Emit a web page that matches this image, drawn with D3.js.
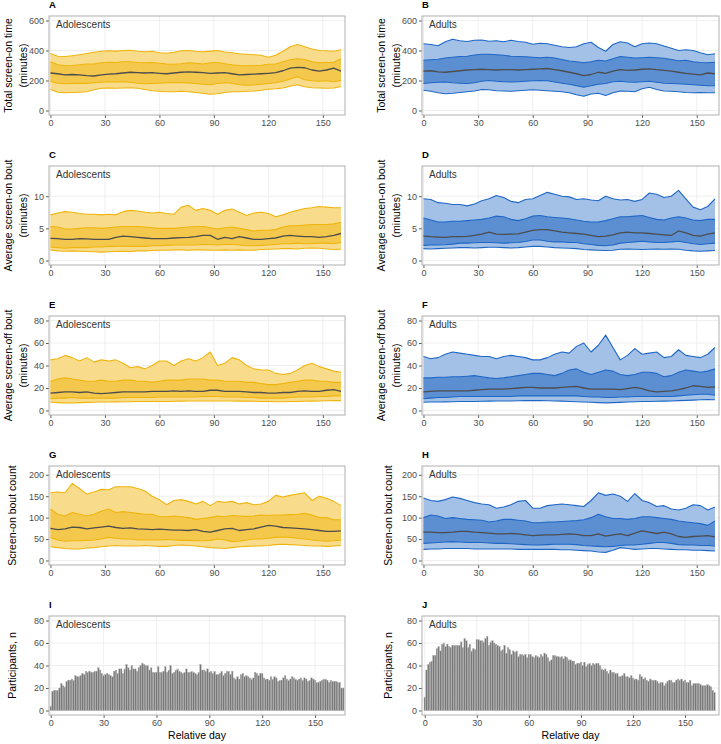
<!DOCTYPE html>
<html>
<head>
<meta charset="utf-8">
<script src="https://cdn.jsdelivr.net/npm/d3@7"></script>
<style>
  body { margin: 0; background: #fff; }
  svg { display: block; font-family: "Liberation Sans", Arial, sans-serif; }
</style>
</head>
<body>
<svg id="chart" width="721" height="744"></svg>
<script>
// Relative day sampled every 4 days for the percentile ribbons
const bandDays = [0,4,8,12,16,20,24,28,32,36,40,44,48,52,56,60,64,68,72,76,80,84,88,92,96,100,104,108,112,116,120,124,128,132,136,140,144,148,152,156,160];

// A: total screen-on time, adolescents (minutes)
const timeAdolP90 = [380,362,360,365,372,380,388,395,398,396,400,402,395,392,395,385,382,388,398,400,395,392,396,400,390,385,378,375,372,368,355,368,395,425,440,425,410,400,398,395,405];
const timeAdolP75 = [325,305,298,300,305,310,310,318,322,320,325,325,320,318,320,315,310,308,312,318,315,310,318,320,312,305,300,298,298,302,308,310,325,338,345,340,325,318,320,322,345];
const timeAdolP50 = [250,245,238,240,238,232,230,238,242,245,250,255,252,250,252,248,245,250,255,258,255,252,248,250,252,245,238,240,242,245,248,252,265,282,288,285,270,262,270,282,262];
const timeAdolP25 = [195,182,178,180,182,180,185,188,192,190,192,188,182,178,180,182,185,186,185,184,180,175,172,180,185,182,172,168,170,175,180,185,195,210,225,205,198,195,198,192,200];
const timeAdolP10 = [140,122,118,120,122,125,138,148,150,148,150,152,148,140,132,128,125,125,128,125,120,115,108,112,120,125,125,128,130,135,142,145,150,162,172,158,152,150,148,150,160];
// B: total screen-on time, adults
const timeAdultP90 = [445,440,432,458,475,465,460,468,470,462,465,458,468,460,455,442,448,445,435,425,420,425,445,455,420,395,440,458,450,425,445,450,445,430,415,400,405,400,385,372,378];
const timeAdultP75 = [335,338,342,350,355,360,362,370,375,375,372,368,362,360,358,355,352,355,350,340,330,325,318,325,335,330,345,360,355,350,352,355,352,348,340,332,335,325,320,318,322];
const timeAdultP50 = [262,265,258,255,260,265,270,272,275,272,270,272,272,270,272,275,278,280,272,265,255,245,232,240,255,248,262,272,268,270,275,278,272,268,262,255,248,242,238,250,245];
const timeAdultP25 = [180,185,188,190,185,182,180,185,195,200,195,192,190,192,195,198,200,198,190,182,175,165,155,165,175,180,192,195,190,188,192,195,188,182,180,178,175,172,168,165,165];
const timeAdultP10 = [135,128,118,112,115,120,125,130,140,138,132,130,128,132,135,138,135,132,128,125,118,105,95,110,115,100,118,130,128,125,145,155,140,130,128,125,120,118,120,118,118];

// C: average screen-on bout, adolescents (minutes)
const onAdolP90 = [7.1,7.4,7.6,7.5,7.3,7.2,7.2,7.1,7.2,7.1,7.6,7.8,7.7,7.5,7.4,7.5,7.3,7.2,8.3,8.6,7.8,8.1,7.8,7.2,7.8,8.0,7.5,7.0,7.4,7.5,7.3,6.8,7.1,7.5,7.8,8.1,8.2,8.4,8.3,8.2,8.2];
const onAdolP75 = [5.3,5.2,4.9,4.9,5.0,5.1,5.1,5.0,5.1,5.2,5.3,5.3,5.3,5.2,5.1,5.0,5.0,5.0,5.1,5.2,5.3,5.3,5.1,4.9,5.1,5.2,5.0,4.8,4.6,4.7,4.7,4.8,5.2,5.4,5.4,5.5,5.6,5.6,5.6,5.7,5.9];
const onAdolP50 = [3.45,3.4,3.3,3.3,3.4,3.35,3.3,3.3,3.3,3.6,3.8,3.7,3.6,3.5,3.4,3.4,3.4,3.5,3.55,3.6,3.7,3.9,3.9,3.3,3.6,3.4,3.7,3.5,3.3,3.3,3.4,3.5,3.8,3.9,3.8,3.7,3.7,3.6,3.7,3.9,4.2];
const onAdolP25 = [2.1,2.0,1.9,2.0,2.0,2.0,2.1,2.1,2.2,2.2,2.25,2.2,2.2,2.2,2.3,2.3,2.35,2.4,2.4,2.4,2.4,2.5,2.5,2.4,2.5,2.5,2.4,2.3,2.3,2.35,2.4,2.5,2.6,2.6,2.7,2.6,2.6,2.7,2.7,2.6,2.8];
const onAdolP10 = [1.65,1.5,1.45,1.5,1.45,1.4,1.35,1.3,1.35,1.4,1.45,1.4,1.5,1.5,1.55,1.6,1.6,1.65,1.65,1.6,1.65,1.65,1.6,1.6,1.65,1.6,1.65,1.6,1.6,1.7,1.75,1.8,1.85,1.85,1.8,1.9,1.95,1.9,1.8,1.7,1.75];
// D: average screen-on bout, adults
const onAdultP90 = [9.6,9.5,9.0,8.9,8.7,8.7,8.5,8.8,9.3,9.6,10.1,9.8,9.2,9.0,9.5,9.6,10.1,10.6,10.3,10.0,9.9,9.5,9.6,9.4,9.3,10.0,9.6,9.4,9.5,9.2,9.5,10.5,10.3,9.8,10.0,10.9,9.6,8.3,7.9,8.4,9.6];
const onAdultP75 = [6.6,6.3,6.0,6.0,6.1,6.1,6.2,6.3,6.4,6.6,6.9,6.8,6.4,6.2,6.5,6.9,7.0,6.8,6.7,6.6,6.5,6.3,6.1,6.0,6.0,6.2,6.5,6.8,6.8,6.9,7.0,6.7,6.4,6.3,6.6,6.8,6.6,6.3,6.2,6.4,6.4];
const onAdultP50 = [3.8,3.7,3.65,3.6,3.7,3.7,3.75,3.9,4.1,4.4,4.1,4.05,4.1,4.15,4.4,4.7,4.8,4.8,4.6,4.4,4.3,4.2,4.1,3.9,3.7,3.8,4.0,4.3,4.4,4.3,4.3,4.2,4.1,4.0,3.9,4.6,4.3,3.9,3.8,4.1,4.3];
const onAdultP25 = [2.35,2.4,2.4,2.45,2.55,2.7,2.7,2.75,2.8,2.8,2.75,2.7,2.75,2.8,2.95,3.2,3.2,3.0,2.9,2.9,2.8,2.8,2.6,2.5,2.35,2.3,2.4,2.7,2.8,2.9,3.0,2.9,2.8,2.8,2.9,3.0,2.8,2.6,2.5,2.6,2.7];
const onAdultP10 = [1.85,1.8,1.85,1.9,1.95,2.0,2.0,1.95,2.0,2.05,2.05,2.0,1.95,2.0,2.1,2.2,2.2,2.1,2.0,1.95,1.9,1.85,1.7,1.65,1.6,1.55,1.6,1.75,1.8,1.75,1.7,1.75,1.8,1.75,1.8,1.75,1.6,1.5,1.45,1.5,1.55];

// E: average screen-off bout, adolescents (minutes)
const offAdolP90 = [45,46,49,47,44,47,43,45,44,45,42,38,39,37,40,44,44,40,44,46,44,47,52,40,42,47,45,40,37,36,36,33,32,33,36,40,42,39,37,35,34];
const offAdolP75 = [26,28,29,28,27,26,26,27,26,26,27,27,26,26,25,26,27,27,27,28,28,28,27,27,26,26,26,25,25,24,23,23,24,25,26,27,27,26,26,25,25];
const offAdolP50 = [15.5,16,16.5,16.5,16,16.5,15.5,15,15.5,16,16.5,16.5,16.5,16.5,17,17,17,17.5,17,17.5,17,17,18,18,17,17,17,16.5,16,16,15.5,15.5,16,16,17,17.5,17,17,18,18.5,17];
const offAdolP25 = [10.5,11,11,11.5,11,11,11,11,11,11,11.5,11.5,11.5,11.5,11.5,12,12,12,12,12,12,12.5,12.5,12.5,12,12,12,11.5,11.5,11,11,11,11,11.5,12,12,12,12.5,12.5,13,13];
const offAdolP10 = [7.3,7,6.8,6.7,7,7.2,7.3,7.5,7.5,7.7,7.8,7.8,8,8,8,8,8,8.2,8.3,8.5,8.5,8.5,8.5,8.5,8.5,8.4,8.3,8.3,8.2,8,8,7.8,7.8,8,8,8.2,8.3,8.5,8.6,8.8,8.8];
// F: average screen-off bout, adults
const offAdultP90 = [48,46,47,50,52,51,50,49,48,48,46,48,49,48,47,45,45,47,50,52,51,57,60,52,58,67,56,45,49,55,50,51,52,47,48,54,49,48,47,50,56];
const offAdultP75 = [29,29,29.5,29.5,30,30,30.5,31,30,29,28.5,29,30,31,32,33,33,32,31,33,36,37,34,32,34,36,35,32,31,32,34,34,33,30,31,34,36,35,34,35,37];
const offAdultP50 = [16.5,17,17.5,17.5,17.5,17.5,17.5,18,18.5,19,19,19,19.5,20,20.5,20.5,20,20,20,20.5,21,21.5,20,19,19,19,19,18.5,19.5,20.5,19.5,17.5,16.5,17,17.5,18.5,20,22,21.5,20.5,21];
const offAdultP25 = [10.5,11,11.5,11.5,12,12.5,12.5,12.5,12.5,12.5,12.5,12.5,12.5,13,13,13,13,13,13,13,13,13,12.5,12,12,11.5,11.5,12,12,12.5,12.5,12.5,12.5,12.5,12.5,13,13.5,14,14.5,14.5,13.5];
const offAdultP10 = [7.3,7.5,7.5,7.7,7.8,8,8,8,8.2,8.3,8.5,8.5,8.5,8.6,8.8,8.8,8.8,8.7,8.5,8.3,8,7.8,7.5,7.3,7,6.8,7,7.2,7.5,7.8,8,8,8.2,8.3,8.5,8.8,9,9.2,9.5,9.7,9.5];

// G: screen-on bout count, adolescents
const countAdolP90 = [158,160,158,180,168,155,160,166,165,172,172,172,168,162,150,142,130,140,142,138,132,138,128,138,136,138,132,135,130,132,138,152,148,152,155,158,140,150,145,138,128];
const countAdolP75 = [120,108,104,112,108,104,108,115,120,112,114,112,110,108,108,102,102,104,102,100,96,98,100,104,102,105,104,103,104,106,105,106,106,107,108,110,106,100,100,95,95];
const countAdolP50 = [75,72,74,78,77,74,76,78,80,77,75,76,74,73,72,73,72,71,71,70,72,68,66,70,74,75,70,72,74,78,82,80,77,76,75,74,72,70,68,68,69];
const countAdolP25 = [54,48,45,46,46,47,48,50,54,52,50,50,48,48,48,48,49,48,47,47,46,46,47,50,48,44,45,48,50,50,52,54,55,54,52,50,48,46,45,46,48];
const countAdolP10 = [32,30,28,27,27,29,30,32,34,35,34,34,34,35,34,33,33,35,36,35,34,32,30,29,28,30,32,33,34,34,35,37,38,37,36,35,34,34,33,34,35];
// H: screen-on bout count, adults
const countAdultP90 = [146,140,138,142,148,145,140,135,132,130,122,125,130,138,140,122,122,128,130,132,130,128,126,140,158,152,155,150,138,156,140,135,126,128,120,118,122,130,128,118,125];
const countAdultP75 = [100,106,104,98,100,98,96,95,94,90,92,96,96,94,92,88,88,90,90,91,92,93,95,100,108,102,98,98,96,98,102,102,100,98,96,92,90,88,86,82,92];
const countAdultP50 = [66,66,65,65,66,68,68,66,65,64,62,62,63,62,60,58,59,60,60,61,62,61,58,58,62,57,60,62,58,64,69,66,63,66,62,56,54,56,57,58,55];
const countAdultP25 = [40,41,42,43,44,43,42,42,42,41,40,40,39,38,37,36,36,37,38,38,38,37,35,34,33,32,33,35,36,36,38,40,42,42,40,37,36,36,35,35,34];
const countAdultP10 = [26,27,27,28,28,28,28,27,27,27,27,27,27,26,26,26,26,26,26,25,25,24,23,22,20,19,24,30,28,26,27,28,28,27,26,25,25,24,24,23,22];

// I / J: participants per relative day (index = day)
const participantsAdol = [4,17,18,18,18,20,24,22,21,26,27,27,28,27,31,30,30,31,33,32,35,34,35,34,34,35,35,38,36,33,31,32,33,32,31,30,35,36,33,37,37,33,37,41,38,36,40,37,37,35,38,40,42,41,40,40,36,38,34,34,34,39,34,34,35,39,34,36,40,33,34,36,37,35,34,33,34,37,34,34,35,34,33,32,34,41,36,36,35,37,34,35,33,35,32,32,33,35,31,33,35,35,32,35,29,28,30,28,32,33,30,31,30,29,28,29,34,33,31,33,33,29,28,28,27,30,28,30,29,26,27,27,29,31,28,27,28,30,29,28,27,28,29,27,29,28,26,27,29,28,27,25,25,26,27,28,28,27,25,27,26,26,26,25,25,20,20];
const participantsAdult = [12,36,41,43,44,49,49,55,57,53,59,60,57,59,57,56,58,58,58,58,58,61,56,64,62,56,59,53,55,54,63,63,62,62,61,64,66,58,61,62,60,59,58,57,53,54,58,51,56,54,50,53,52,53,48,50,50,49,50,47,50,50,48,47,49,48,47,50,48,51,50,47,44,45,49,49,48,48,47,48,46,48,47,45,45,44,44,41,42,42,43,40,43,39,41,42,40,42,41,42,42,40,37,36,37,35,33,36,34,34,33,33,30,30,31,33,30,30,29,31,29,28,28,27,32,30,28,29,27,26,28,27,27,27,26,24,25,25,22,24,26,27,27,25,25,27,28,27,28,26,27,25,25,27,22,24,24,24,24,23,22,22,22,23,22,21,18,16];

const dayTicks = [0, 30, 60, 90, 120, 150];

const bandRows = [
  { letters: ['A', 'B'], title: ['Total screen-on time', '(minutes)'], domain: [-30, 630], ticks: [0, 200, 400, 600],
    adol: [timeAdolP10, timeAdolP25, timeAdolP50, timeAdolP75, timeAdolP90],
    adult: [timeAdultP10, timeAdultP25, timeAdultP50, timeAdultP75, timeAdultP90] },
  { letters: ['C', 'D'], title: ['Average screen-on bout', '(minutes)'], domain: [-0.7, 14.7], ticks: [0, 5, 10],
    adol: [onAdolP10, onAdolP25, onAdolP50, onAdolP75, onAdolP90],
    adult: [onAdultP10, onAdultP25, onAdultP50, onAdultP75, onAdultP90] },
  { letters: ['E', 'F'], title: ['Average screen-off bout', '(minutes)'], domain: [-4, 84], ticks: [0, 20, 40, 60, 80],
    adol: [offAdolP10, offAdolP25, offAdolP50, offAdolP75, offAdolP90],
    adult: [offAdultP10, offAdultP25, offAdultP50, offAdultP75, offAdultP90] },
  { letters: ['G', 'H'], title: ['Screen-on bout count'], domain: [-10.5, 220.5], ticks: [0, 50, 100, 150, 200],
    adol: [countAdolP10, countAdolP25, countAdolP50, countAdolP75, countAdolP90],
    adult: [countAdultP10, countAdultP25, countAdultP50, countAdultP75, countAdultP90] }
];

const groups = [
  { key: 'adol', label: 'Adolescents', x0: 49, x1: 345, outer: '#f8dc8c', inner: '#f3c84c', line: '#efb50c', titleOff: [41, 26], titleOne: 37, barDomain: [-1, 167] },
  { key: 'adult', label: 'Adults', x0: 422, x1: 719, outer: '#a3c1e6', inner: '#5b8fd2', line: '#1f67c6', titleOff: [41, 26], titleOne: 34, barDomain: [-1.6, 169.6] }
];

const rowTop = [16, 166, 316, 466, 616];
const panelH = 99;

const svg = d3.select('#chart');

function styleAxis(g) {
  g.select('.domain').remove();
  g.selectAll('.tick line').attr('stroke', '#333').attr('stroke-width', 0.8);
  g.selectAll('.tick text').attr('fill', '#4d4d4d').style('font-size', '9px').style('font-family', '"Liberation Sans", Arial, sans-serif');
}

function drawFrame(gi, ri, x, y, yTicks, title, letter) {
  const grp = groups[gi];
  const top = rowTop[ri];
  const g = svg.append('g').attr('transform', `translate(${grp.x0},${top})`);
  const w = grp.x1 - grp.x0;

  // grid
  g.append('g').selectAll('line.vx').data(dayTicks).enter().append('line')
    .attr('x1', d => x(d)).attr('x2', d => x(d)).attr('y1', 0).attr('y2', panelH)
    .attr('stroke', '#ebebeb').attr('stroke-width', 0.8);
  g.append('g').selectAll('line.hy').data(yTicks).enter().append('line')
    .attr('x1', 0).attr('x2', w).attr('y1', d => y(d)).attr('y2', d => y(d))
    .attr('stroke', '#ebebeb').attr('stroke-width', 0.8);

  const content = g.append('g').attr('clip-path', `url(#clip${gi}${ri})`);
  svg.append('clipPath').attr('id', `clip${gi}${ri}`).append('rect')
    .attr('x', 0).attr('y', 0).attr('width', w).attr('height', panelH);

  // axes
  g.append('g').call(d3.axisLeft(y).tickValues(yTicks).tickSize(3).tickPadding(2)).call(styleAxis);
  g.append('g').attr('transform', `translate(0,${panelH})`)
    .call(d3.axisBottom(x).tickValues(dayTicks).tickSize(3).tickPadding(2)).call(styleAxis);

  // letter and group label
  g.append('text').attr('x', 0).attr('y', -8).text(letter)
    .style('font-size', '9.5px').style('font-weight', 'bold').attr('fill', '#000');
  g.append('text').attr('x', 7).attr('y', 12).text(grp.label)
    .style('font-size', '10px').attr('fill', '#333');

  // y title
  const cy = panelH / 2;
  if (title.length === 2) {
    title.forEach((t, k) => {
      g.append('text').attr('transform', `translate(${-grp.titleOff[k]},${cy}) rotate(-90)`)
        .attr('text-anchor', 'middle').attr('dy', '0.35em').text(t)
        .style('font-size', '10.5px').attr('fill', '#000');
    });
  } else {
    g.append('text').attr('transform', `translate(${-grp.titleOne},${cy}) rotate(-90)`)
      .attr('text-anchor', 'middle').attr('dy', '0.35em').text(title[0])
      .style('font-size', '10.5px').attr('fill', '#000');
  }

  return { g, content, w };
}

function drawBorder(g, w) {
  g.append('rect').attr('x', 0).attr('y', 0).attr('width', w).attr('height', panelH)
    .attr('fill', 'none').attr('stroke', '#b0b0b0').attr('stroke-width', 1);
}

// percentile ribbon panels
bandRows.forEach((row, ri) => {
  groups.forEach((grp, gi) => {
    const x = d3.scaleLinear().domain([-0.8, 162.2]).range([0, grp.x1 - grp.x0]);
    const y = d3.scaleLinear().domain(row.domain).range([panelH, 0]);
    const { g, content, w } = drawFrame(gi, ri, x, y, row.ticks, row.title, row.letters[gi]);
    const [p10, p25, p50, p75, p90] = row[grp.key];
    const idx = d3.range(bandDays.length);

    const area = (lo, hi) => d3.area().x(i => x(bandDays[i])).y0(i => y(lo[i])).y1(i => y(hi[i]));
    const line = s => d3.line().x(i => x(bandDays[i])).y(i => y(s[i]));

    content.append('path').datum(idx).attr('d', area(p10, p90)).attr('fill', grp.outer);
    content.append('path').datum(idx).attr('d', area(p25, p75)).attr('fill', grp.inner);
    [p10, p25, p75, p90].forEach(s => {
      content.append('path').datum(idx).attr('d', line(s))
        .attr('fill', 'none').attr('stroke', grp.line).attr('stroke-width', 1.1).attr('stroke-linejoin', 'round');
    });
    content.append('path').datum(idx).attr('d', line(p50))
      .attr('fill', 'none').attr('stroke', '#4d4d4d').attr('stroke-width', 1.3).attr('stroke-linejoin', 'round');

    drawBorder(g, w);
  });
});

// participant count bars
[participantsAdol, participantsAdult].forEach((counts, gi) => {
  const grp = groups[gi];
  const x = d3.scaleLinear().domain(grp.barDomain).range([0, grp.x1 - grp.x0]);
  const y = d3.scaleLinear().domain([-4, 84]).range([panelH, 0]);
  const { g, content, w } = drawFrame(gi, 4, x, y, [0, 20, 40, 60, 80], ['Participants, n'], gi === 0 ? 'I' : 'J');
  const bw = x(1) - x(0);

  content.selectAll('rect.bar').data(counts).enter().append('rect')
    .attr('x', (d, i) => x(i) - bw * 0.45)
    .attr('width', bw * 0.9)
    .attr('y', d => y(d))
    .attr('height', d => y(0) - y(d))
    .attr('fill', '#767676')
    .attr('stroke', '#b8b8b8')
    .attr('stroke-width', 0.4);

  drawBorder(g, w);

  g.append('text').attr('x', w / 2).attr('y', panelH + 24).attr('text-anchor', 'middle')
    .text('Relative day').style('font-size', '10.5px').attr('fill', '#000');
});
</script>
</body>
</html>
